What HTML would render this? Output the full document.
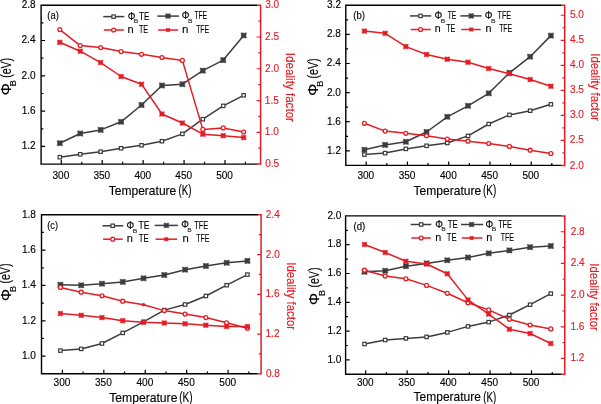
<!DOCTYPE html>
<html><head><meta charset="utf-8"><style>
html,body{margin:0;padding:0;background:#fff;}
svg{display:block;filter:blur(0.3px);}
text{font-family:"Liberation Sans", sans-serif;}
</style></head><body>
<svg width="601" height="404" viewBox="0 0 601 404">
<rect width="601" height="404" fill="#fff"/>
<path d="M257.60 5.20H41.10V164.10H257.10" fill="none" stroke="#000" stroke-width="1.4"/>
<path d="M257.60 5.20H260.60V164.10H256.80" fill="none" stroke="#e41c23" stroke-width="1.5"/>
<path d="M41.10 146.44h4 M41.10 111.13h4 M41.10 75.82h4 M41.10 40.51h4 M41.10 128.79h2.3 M41.10 93.48h2.3 M41.10 58.17h2.3 M41.10 22.86h2.3 M61.30 164.10v-4 M102.22 164.10v-4 M143.15 164.10v-4 M184.07 164.10v-4 M225.00 164.10v-4 M81.76 164.10v-2.4 M122.69 164.10v-2.4 M163.61 164.10v-2.4 M204.54 164.10v-2.4 M245.46 164.10v-2.4" stroke="#000" stroke-width="1.2" fill="none"/>
<path d="M260.60 132.32h-4 M260.60 100.54h-4 M260.60 68.76h-4 M260.60 36.98h-4 M260.60 148.21h-2.3 M260.60 116.43h-2.3 M260.60 84.65h-2.3 M260.60 52.87h-2.3 M260.60 21.09h-2.3" stroke="#e41c23" stroke-width="1.2" fill="none"/>
<text x="21.72" y="149.34" font-size="11.7" fill="#000" stroke="#000" stroke-width="0.15" textLength="13.99" lengthAdjust="spacingAndGlyphs">1.2</text>
<text x="21.65" y="114.03" font-size="11.7" fill="#000" stroke="#000" stroke-width="0.15" textLength="13.99" lengthAdjust="spacingAndGlyphs">1.6</text>
<text x="21.61" y="78.72" font-size="11.7" fill="#000" stroke="#000" stroke-width="0.15" textLength="13.99" lengthAdjust="spacingAndGlyphs">2.0</text>
<text x="21.51" y="43.41" font-size="11.7" fill="#000" stroke="#000" stroke-width="0.15" textLength="13.99" lengthAdjust="spacingAndGlyphs">2.4</text>
<text x="21.65" y="8.10" font-size="11.7" fill="#000" stroke="#000" stroke-width="0.15" textLength="13.99" lengthAdjust="spacingAndGlyphs">2.8</text>
<text x="265.21" y="167.20" font-size="11.7" fill="#e41c23" stroke="#e41c23" stroke-width="0.15" textLength="13.99" lengthAdjust="spacingAndGlyphs">0.5</text>
<text x="264.83" y="135.42" font-size="11.7" fill="#e41c23" stroke="#e41c23" stroke-width="0.15" textLength="13.99" lengthAdjust="spacingAndGlyphs">1.0</text>
<text x="264.83" y="103.64" font-size="11.7" fill="#e41c23" stroke="#e41c23" stroke-width="0.15" textLength="13.99" lengthAdjust="spacingAndGlyphs">1.5</text>
<text x="265.09" y="71.86" font-size="11.7" fill="#e41c23" stroke="#e41c23" stroke-width="0.15" textLength="13.99" lengthAdjust="spacingAndGlyphs">2.0</text>
<text x="265.09" y="40.08" font-size="11.7" fill="#e41c23" stroke="#e41c23" stroke-width="0.15" textLength="13.99" lengthAdjust="spacingAndGlyphs">2.5</text>
<text x="265.22" y="8.30" font-size="11.7" fill="#e41c23" stroke="#e41c23" stroke-width="0.15" textLength="13.99" lengthAdjust="spacingAndGlyphs">3.0</text>
<text x="52.51" y="178.60" font-size="11.7" fill="#000" stroke="#000" stroke-width="0.15" textLength="16.79" lengthAdjust="spacingAndGlyphs">300</text>
<text x="93.44" y="178.60" font-size="11.7" fill="#000" stroke="#000" stroke-width="0.15" textLength="16.79" lengthAdjust="spacingAndGlyphs">350</text>
<text x="134.44" y="178.60" font-size="11.7" fill="#000" stroke="#000" stroke-width="0.15" textLength="16.79" lengthAdjust="spacingAndGlyphs">400</text>
<text x="175.36" y="178.60" font-size="11.7" fill="#000" stroke="#000" stroke-width="0.15" textLength="16.79" lengthAdjust="spacingAndGlyphs">450</text>
<text x="216.20" y="178.60" font-size="11.7" fill="#000" stroke="#000" stroke-width="0.15" textLength="16.79" lengthAdjust="spacingAndGlyphs">500</text>
<polyline points="59.80,157.20 80.23,154.30 100.66,151.70 121.09,148.30 141.52,145.30 161.95,141.20 182.38,133.90 202.81,119.20 223.24,105.90 243.67,95.30" fill="none" stroke="#3c3c3c" stroke-width="1.5" stroke-linejoin="round"/>
<polyline points="59.80,143.20 80.23,133.50 100.66,129.90 121.09,121.80 141.52,105.00 161.95,85.50 182.38,84.20 202.81,70.60 223.24,60.10 243.67,35.45" fill="none" stroke="#3c3c3c" stroke-width="1.5" stroke-linejoin="round"/>
<rect x="58.10" y="155.50" width="3.4" height="3.4" fill="#fff" stroke="#3c3c3c" stroke-width="1.2"/>
<rect x="78.53" y="152.60" width="3.4" height="3.4" fill="#fff" stroke="#3c3c3c" stroke-width="1.2"/>
<rect x="98.96" y="150.00" width="3.4" height="3.4" fill="#fff" stroke="#3c3c3c" stroke-width="1.2"/>
<rect x="119.39" y="146.60" width="3.4" height="3.4" fill="#fff" stroke="#3c3c3c" stroke-width="1.2"/>
<rect x="139.82" y="143.60" width="3.4" height="3.4" fill="#fff" stroke="#3c3c3c" stroke-width="1.2"/>
<rect x="160.25" y="139.50" width="3.4" height="3.4" fill="#fff" stroke="#3c3c3c" stroke-width="1.2"/>
<rect x="180.68" y="132.20" width="3.4" height="3.4" fill="#fff" stroke="#3c3c3c" stroke-width="1.2"/>
<rect x="201.11" y="117.50" width="3.4" height="3.4" fill="#fff" stroke="#3c3c3c" stroke-width="1.2"/>
<rect x="221.54" y="104.20" width="3.4" height="3.4" fill="#fff" stroke="#3c3c3c" stroke-width="1.2"/>
<rect x="241.97" y="93.60" width="3.4" height="3.4" fill="#fff" stroke="#3c3c3c" stroke-width="1.2"/>
<path d="M57.15 140.55L59.80 140.92L62.45 140.55L62.08 143.20L62.45 145.85L59.80 145.48L57.15 145.85L57.52 143.20Z" fill="#3c3c3c" stroke="#3c3c3c" stroke-width="0.5" stroke-linejoin="miter"/>
<path d="M77.58 130.85L80.23 131.22L82.88 130.85L82.51 133.50L82.88 136.15L80.23 135.78L77.58 136.15L77.95 133.50Z" fill="#3c3c3c" stroke="#3c3c3c" stroke-width="0.5" stroke-linejoin="miter"/>
<path d="M98.01 127.25L100.66 127.62L103.31 127.25L102.94 129.90L103.31 132.55L100.66 132.18L98.01 132.55L98.38 129.90Z" fill="#3c3c3c" stroke="#3c3c3c" stroke-width="0.5" stroke-linejoin="miter"/>
<path d="M118.44 119.15L121.09 119.52L123.74 119.15L123.37 121.80L123.74 124.45L121.09 124.08L118.44 124.45L118.81 121.80Z" fill="#3c3c3c" stroke="#3c3c3c" stroke-width="0.5" stroke-linejoin="miter"/>
<path d="M138.87 102.35L141.52 102.72L144.17 102.35L143.80 105.00L144.17 107.65L141.52 107.28L138.87 107.65L139.24 105.00Z" fill="#3c3c3c" stroke="#3c3c3c" stroke-width="0.5" stroke-linejoin="miter"/>
<path d="M159.30 82.85L161.95 83.22L164.60 82.85L164.23 85.50L164.60 88.15L161.95 87.78L159.30 88.15L159.67 85.50Z" fill="#3c3c3c" stroke="#3c3c3c" stroke-width="0.5" stroke-linejoin="miter"/>
<path d="M179.73 81.55L182.38 81.92L185.03 81.55L184.66 84.20L185.03 86.85L182.38 86.48L179.73 86.85L180.10 84.20Z" fill="#3c3c3c" stroke="#3c3c3c" stroke-width="0.5" stroke-linejoin="miter"/>
<path d="M200.16 67.95L202.81 68.32L205.46 67.95L205.09 70.60L205.46 73.25L202.81 72.88L200.16 73.25L200.53 70.60Z" fill="#3c3c3c" stroke="#3c3c3c" stroke-width="0.5" stroke-linejoin="miter"/>
<path d="M220.59 57.45L223.24 57.82L225.89 57.45L225.52 60.10L225.89 62.75L223.24 62.38L220.59 62.75L220.96 60.10Z" fill="#3c3c3c" stroke="#3c3c3c" stroke-width="0.5" stroke-linejoin="miter"/>
<path d="M241.02 32.80L243.67 33.17L246.32 32.80L245.95 35.45L246.32 38.10L243.67 37.73L241.02 38.10L241.39 35.45Z" fill="#3c3c3c" stroke="#3c3c3c" stroke-width="0.5" stroke-linejoin="miter"/>
<polyline points="59.80,29.60 80.23,45.60 100.66,47.60 121.09,51.60 141.52,54.30 161.95,57.50 182.38,60.40 202.81,129.40 223.24,127.90 243.67,132.00" fill="none" stroke="#e41c23" stroke-width="1.5" stroke-linejoin="round"/>
<polyline points="59.80,42.30 80.23,51.20 100.66,62.60 121.09,76.50 141.52,84.20 161.95,114.00 182.38,123.00 202.81,134.20 223.24,135.70 243.67,137.60" fill="none" stroke="#e41c23" stroke-width="1.5" stroke-linejoin="round"/>
<circle cx="59.80" cy="29.60" r="1.95" fill="#fff" stroke="#e41c23" stroke-width="1.3"/>
<circle cx="80.23" cy="45.60" r="1.95" fill="#fff" stroke="#e41c23" stroke-width="1.3"/>
<circle cx="100.66" cy="47.60" r="1.95" fill="#fff" stroke="#e41c23" stroke-width="1.3"/>
<circle cx="121.09" cy="51.60" r="1.95" fill="#fff" stroke="#e41c23" stroke-width="1.3"/>
<circle cx="141.52" cy="54.30" r="1.95" fill="#fff" stroke="#e41c23" stroke-width="1.3"/>
<circle cx="161.95" cy="57.50" r="1.95" fill="#fff" stroke="#e41c23" stroke-width="1.3"/>
<circle cx="182.38" cy="60.40" r="1.95" fill="#fff" stroke="#e41c23" stroke-width="1.3"/>
<circle cx="202.81" cy="129.40" r="1.95" fill="#fff" stroke="#e41c23" stroke-width="1.3"/>
<circle cx="223.24" cy="127.90" r="1.95" fill="#fff" stroke="#e41c23" stroke-width="1.3"/>
<circle cx="243.67" cy="132.00" r="1.95" fill="#fff" stroke="#e41c23" stroke-width="1.3"/>
<path d="M57.45 39.95L59.80 40.28L62.15 39.95L61.82 42.30L62.15 44.65L59.80 44.32L57.45 44.65L57.78 42.30Z" fill="#e41c23" stroke="#e41c23" stroke-width="0.5" stroke-linejoin="miter"/>
<path d="M77.88 48.85L80.23 49.18L82.58 48.85L82.25 51.20L82.58 53.55L80.23 53.22L77.88 53.55L78.21 51.20Z" fill="#e41c23" stroke="#e41c23" stroke-width="0.5" stroke-linejoin="miter"/>
<path d="M98.31 60.25L100.66 60.58L103.01 60.25L102.68 62.60L103.01 64.95L100.66 64.62L98.31 64.95L98.64 62.60Z" fill="#e41c23" stroke="#e41c23" stroke-width="0.5" stroke-linejoin="miter"/>
<path d="M118.74 74.15L121.09 74.48L123.44 74.15L123.11 76.50L123.44 78.85L121.09 78.52L118.74 78.85L119.07 76.50Z" fill="#e41c23" stroke="#e41c23" stroke-width="0.5" stroke-linejoin="miter"/>
<path d="M139.17 81.85L141.52 82.18L143.87 81.85L143.54 84.20L143.87 86.55L141.52 86.22L139.17 86.55L139.50 84.20Z" fill="#e41c23" stroke="#e41c23" stroke-width="0.5" stroke-linejoin="miter"/>
<path d="M159.60 111.65L161.95 111.98L164.30 111.65L163.97 114.00L164.30 116.35L161.95 116.02L159.60 116.35L159.93 114.00Z" fill="#e41c23" stroke="#e41c23" stroke-width="0.5" stroke-linejoin="miter"/>
<path d="M180.03 120.65L182.38 120.98L184.73 120.65L184.40 123.00L184.73 125.35L182.38 125.02L180.03 125.35L180.36 123.00Z" fill="#e41c23" stroke="#e41c23" stroke-width="0.5" stroke-linejoin="miter"/>
<path d="M200.46 131.85L202.81 132.18L205.16 131.85L204.83 134.20L205.16 136.55L202.81 136.22L200.46 136.55L200.79 134.20Z" fill="#e41c23" stroke="#e41c23" stroke-width="0.5" stroke-linejoin="miter"/>
<path d="M220.89 133.35L223.24 133.68L225.59 133.35L225.26 135.70L225.59 138.05L223.24 137.72L220.89 138.05L221.22 135.70Z" fill="#e41c23" stroke="#e41c23" stroke-width="0.5" stroke-linejoin="miter"/>
<path d="M241.32 135.25L243.67 135.58L246.02 135.25L245.69 137.60L246.02 139.95L243.67 139.62L241.32 139.95L241.65 137.60Z" fill="#e41c23" stroke="#e41c23" stroke-width="0.5" stroke-linejoin="miter"/>
<path d="M103.20 16.60H124.30" stroke="#3c3c3c" stroke-width="1.5"/><rect x="111.90" y="14.90" width="3.4" height="3.4" fill="#fff" stroke="#3c3c3c" stroke-width="1.2"/>
<path d="M103.90 30.00H123.80" stroke="#e41c23" stroke-width="1.5"/><circle cx="113.60" cy="30.00" r="1.95" fill="#fff" stroke="#e41c23" stroke-width="1.3"/>
<path d="M157.30 16.10H178.90" stroke="#3c3c3c" stroke-width="1.5"/><path d="M165.65 13.75L168.00 14.08L170.35 13.75L170.02 16.10L170.35 18.45L168.00 18.12L165.65 18.45L165.98 16.10Z" fill="#3c3c3c" stroke="#3c3c3c" stroke-width="0.5" stroke-linejoin="miter"/>
<path d="M158.20 30.00H178.10" stroke="#e41c23" stroke-width="1.5"/><path d="M166.20 28.20L168.00 28.45L169.80 28.20L169.55 30.00L169.80 31.80L168.00 31.55L166.20 31.80L166.45 30.00Z" fill="#e41c23" stroke="#e41c23" stroke-width="0.5" stroke-linejoin="miter"/>
<text x="127.65" y="19.60" font-size="10.0" fill="#000" stroke="#000" stroke-width="0.15" textLength="7.70" lengthAdjust="spacingAndGlyphs">&#934;</text>
<text x="133.85" y="23.30" font-size="5.9" fill="#000" textLength="4.51" lengthAdjust="spacingAndGlyphs">B</text>
<text x="181.75" y="19.10" font-size="10.0" fill="#000" stroke="#000" stroke-width="0.15" textLength="7.70" lengthAdjust="spacingAndGlyphs">&#934;</text>
<text x="187.95" y="22.80" font-size="5.9" fill="#000" textLength="4.51" lengthAdjust="spacingAndGlyphs">B</text>
<text x="139.02" y="19.80" font-size="11.0" fill="#000" stroke="#000" stroke-width="0.15" textLength="10.33" lengthAdjust="spacingAndGlyphs">TE</text>
<text x="194.45" y="19.30" font-size="11.0" fill="#000" stroke="#000" stroke-width="0.15" textLength="12.64" lengthAdjust="spacingAndGlyphs">TFE</text>
<text x="127.57" y="32.80" font-size="11.0" fill="#000" stroke="#000" stroke-width="0.12" textLength="6.15" lengthAdjust="spacingAndGlyphs">n</text>
<text x="138.94" y="32.80" font-size="11.0" fill="#000" stroke="#000" stroke-width="0.15" textLength="9.17" lengthAdjust="spacingAndGlyphs">TE</text>
<text x="181.93" y="32.80" font-size="11.0" fill="#000" stroke="#000" stroke-width="0.12" textLength="6.42" lengthAdjust="spacingAndGlyphs">n</text>
<text x="196.15" y="32.80" font-size="11.0" fill="#000" stroke="#000" stroke-width="0.15" textLength="12.95" lengthAdjust="spacingAndGlyphs">TFE</text>
<text x="47.31" y="18.70" font-size="11.7" fill="#000" stroke="#000" stroke-width="0.15" textLength="11.57" lengthAdjust="spacingAndGlyphs">(a)</text>
<text x="108.73" y="194.50" font-size="13.2" fill="#000" stroke="#000" stroke-width="0.15" textLength="67.59" lengthAdjust="spacingAndGlyphs">Temperature</text>
<text x="178.60" y="194.80" font-size="14.3" fill="#000" stroke="#000" stroke-width="0.15" textLength="12.90" lengthAdjust="spacingAndGlyphs">(K)</text>
<g transform="translate(285.80,53.90) rotate(90)"><text x="-1.07" y="0.00" font-size="13.0" fill="#e41c23" stroke="#e41c23" stroke-width="0.15" textLength="69.17" lengthAdjust="spacingAndGlyphs">Ideality factor</text></g>
<g transform="translate(10.50,94.40) rotate(-90)"><text x="-0.87" y="0.20" font-size="14.3" fill="#000" stroke="#000" stroke-width="0.15" textLength="12.13" lengthAdjust="spacingAndGlyphs">&#934;</text><text x="7.91" y="5.60" font-size="8.4" fill="#000" stroke="#000" stroke-width="0.1" textLength="6.39" lengthAdjust="spacingAndGlyphs">B</text><text x="16.54" y="0.00" font-size="14.0" fill="#000" stroke="#000" stroke-width="0.15" textLength="20.01" lengthAdjust="spacingAndGlyphs">(eV)</text></g>
<path d="M561.70 5.25H345.80V165.40H561.20" fill="none" stroke="#000" stroke-width="1.4"/>
<path d="M561.70 5.25H564.70V165.40H560.90" fill="none" stroke="#e41c23" stroke-width="1.5"/>
<path d="M345.80 150.84h4 M345.80 121.72h4 M345.80 92.60h4 M345.80 63.49h4 M345.80 34.37h4 M345.80 136.28h2.3 M345.80 107.16h2.3 M345.80 78.05h2.3 M345.80 48.93h2.3 M345.80 19.81h2.3 M366.20 165.40v-4 M407.45 165.40v-4 M448.70 165.40v-4 M489.95 165.40v-4 M531.20 165.40v-4 M386.82 165.40v-2.4 M428.07 165.40v-2.4 M469.32 165.40v-2.4 M510.57 165.40v-2.4 M551.83 165.40v-2.4" stroke="#000" stroke-width="1.2" fill="none"/>
<path d="M564.70 140.38h-4 M564.70 115.35h-4 M564.70 90.33h-4 M564.70 65.31h-4 M564.70 40.28h-4 M564.70 15.26h-4 M564.70 152.89h-2.3 M564.70 127.86h-2.3 M564.70 102.84h-2.3 M564.70 77.82h-2.3 M564.70 52.79h-2.3 M564.70 27.77h-2.3" stroke="#e41c23" stroke-width="1.2" fill="none"/>
<text x="327.02" y="153.74" font-size="11.7" fill="#000" stroke="#000" stroke-width="0.15" textLength="13.99" lengthAdjust="spacingAndGlyphs">1.2</text>
<text x="326.95" y="124.62" font-size="11.7" fill="#000" stroke="#000" stroke-width="0.15" textLength="13.99" lengthAdjust="spacingAndGlyphs">1.6</text>
<text x="326.91" y="95.50" font-size="11.7" fill="#000" stroke="#000" stroke-width="0.15" textLength="13.99" lengthAdjust="spacingAndGlyphs">2.0</text>
<text x="326.81" y="66.39" font-size="11.7" fill="#000" stroke="#000" stroke-width="0.15" textLength="13.99" lengthAdjust="spacingAndGlyphs">2.4</text>
<text x="326.95" y="37.27" font-size="11.7" fill="#000" stroke="#000" stroke-width="0.15" textLength="13.99" lengthAdjust="spacingAndGlyphs">2.8</text>
<text x="327.02" y="8.15" font-size="11.7" fill="#000" stroke="#000" stroke-width="0.15" textLength="13.99" lengthAdjust="spacingAndGlyphs">3.2</text>
<text x="569.79" y="168.50" font-size="11.7" fill="#e41c23" stroke="#e41c23" stroke-width="0.15" textLength="13.99" lengthAdjust="spacingAndGlyphs">2.0</text>
<text x="569.79" y="143.48" font-size="11.7" fill="#e41c23" stroke="#e41c23" stroke-width="0.15" textLength="13.99" lengthAdjust="spacingAndGlyphs">2.5</text>
<text x="569.92" y="118.45" font-size="11.7" fill="#e41c23" stroke="#e41c23" stroke-width="0.15" textLength="13.99" lengthAdjust="spacingAndGlyphs">3.0</text>
<text x="569.92" y="93.43" font-size="11.7" fill="#e41c23" stroke="#e41c23" stroke-width="0.15" textLength="13.99" lengthAdjust="spacingAndGlyphs">3.5</text>
<text x="570.07" y="68.41" font-size="11.7" fill="#e41c23" stroke="#e41c23" stroke-width="0.15" textLength="13.99" lengthAdjust="spacingAndGlyphs">4.0</text>
<text x="570.07" y="43.38" font-size="11.7" fill="#e41c23" stroke="#e41c23" stroke-width="0.15" textLength="13.99" lengthAdjust="spacingAndGlyphs">4.5</text>
<text x="569.90" y="18.36" font-size="11.7" fill="#e41c23" stroke="#e41c23" stroke-width="0.15" textLength="13.99" lengthAdjust="spacingAndGlyphs">5.0</text>
<text x="357.41" y="178.90" font-size="11.7" fill="#000" stroke="#000" stroke-width="0.15" textLength="16.79" lengthAdjust="spacingAndGlyphs">300</text>
<text x="398.66" y="178.90" font-size="11.7" fill="#000" stroke="#000" stroke-width="0.15" textLength="16.79" lengthAdjust="spacingAndGlyphs">350</text>
<text x="439.99" y="178.90" font-size="11.7" fill="#000" stroke="#000" stroke-width="0.15" textLength="16.79" lengthAdjust="spacingAndGlyphs">400</text>
<text x="481.24" y="178.90" font-size="11.7" fill="#000" stroke="#000" stroke-width="0.15" textLength="16.79" lengthAdjust="spacingAndGlyphs">450</text>
<text x="522.40" y="178.90" font-size="11.7" fill="#000" stroke="#000" stroke-width="0.15" textLength="16.79" lengthAdjust="spacingAndGlyphs">500</text>
<polyline points="364.40,154.60 385.12,153.10 405.84,148.90 426.56,145.80 447.28,143.00 468.00,135.90 488.72,124.00 509.44,114.90 530.16,110.70 550.88,104.30" fill="none" stroke="#3c3c3c" stroke-width="1.5" stroke-linejoin="round"/>
<polyline points="364.40,149.80 385.12,144.90 405.84,141.80 426.56,132.00 447.28,116.80 468.00,105.80 488.72,93.30 509.44,72.80 530.16,56.70 550.88,35.60" fill="none" stroke="#3c3c3c" stroke-width="1.5" stroke-linejoin="round"/>
<rect x="362.70" y="152.90" width="3.4" height="3.4" fill="#fff" stroke="#3c3c3c" stroke-width="1.2"/>
<rect x="383.42" y="151.40" width="3.4" height="3.4" fill="#fff" stroke="#3c3c3c" stroke-width="1.2"/>
<rect x="404.14" y="147.20" width="3.4" height="3.4" fill="#fff" stroke="#3c3c3c" stroke-width="1.2"/>
<rect x="424.86" y="144.10" width="3.4" height="3.4" fill="#fff" stroke="#3c3c3c" stroke-width="1.2"/>
<rect x="445.58" y="141.30" width="3.4" height="3.4" fill="#fff" stroke="#3c3c3c" stroke-width="1.2"/>
<rect x="466.30" y="134.20" width="3.4" height="3.4" fill="#fff" stroke="#3c3c3c" stroke-width="1.2"/>
<rect x="487.02" y="122.30" width="3.4" height="3.4" fill="#fff" stroke="#3c3c3c" stroke-width="1.2"/>
<rect x="507.74" y="113.20" width="3.4" height="3.4" fill="#fff" stroke="#3c3c3c" stroke-width="1.2"/>
<rect x="528.46" y="109.00" width="3.4" height="3.4" fill="#fff" stroke="#3c3c3c" stroke-width="1.2"/>
<rect x="549.18" y="102.60" width="3.4" height="3.4" fill="#fff" stroke="#3c3c3c" stroke-width="1.2"/>
<path d="M361.75 147.15L364.40 147.52L367.05 147.15L366.68 149.80L367.05 152.45L364.40 152.08L361.75 152.45L362.12 149.80Z" fill="#3c3c3c" stroke="#3c3c3c" stroke-width="0.5" stroke-linejoin="miter"/>
<path d="M382.47 142.25L385.12 142.62L387.77 142.25L387.40 144.90L387.77 147.55L385.12 147.18L382.47 147.55L382.84 144.90Z" fill="#3c3c3c" stroke="#3c3c3c" stroke-width="0.5" stroke-linejoin="miter"/>
<path d="M403.19 139.15L405.84 139.52L408.49 139.15L408.12 141.80L408.49 144.45L405.84 144.08L403.19 144.45L403.56 141.80Z" fill="#3c3c3c" stroke="#3c3c3c" stroke-width="0.5" stroke-linejoin="miter"/>
<path d="M423.91 129.35L426.56 129.72L429.21 129.35L428.84 132.00L429.21 134.65L426.56 134.28L423.91 134.65L424.28 132.00Z" fill="#3c3c3c" stroke="#3c3c3c" stroke-width="0.5" stroke-linejoin="miter"/>
<path d="M444.63 114.15L447.28 114.52L449.93 114.15L449.56 116.80L449.93 119.45L447.28 119.08L444.63 119.45L445.00 116.80Z" fill="#3c3c3c" stroke="#3c3c3c" stroke-width="0.5" stroke-linejoin="miter"/>
<path d="M465.35 103.15L468.00 103.52L470.65 103.15L470.28 105.80L470.65 108.45L468.00 108.08L465.35 108.45L465.72 105.80Z" fill="#3c3c3c" stroke="#3c3c3c" stroke-width="0.5" stroke-linejoin="miter"/>
<path d="M486.07 90.65L488.72 91.02L491.37 90.65L491.00 93.30L491.37 95.95L488.72 95.58L486.07 95.95L486.44 93.30Z" fill="#3c3c3c" stroke="#3c3c3c" stroke-width="0.5" stroke-linejoin="miter"/>
<path d="M506.79 70.15L509.44 70.52L512.09 70.15L511.72 72.80L512.09 75.45L509.44 75.08L506.79 75.45L507.16 72.80Z" fill="#3c3c3c" stroke="#3c3c3c" stroke-width="0.5" stroke-linejoin="miter"/>
<path d="M527.51 54.05L530.16 54.42L532.81 54.05L532.44 56.70L532.81 59.35L530.16 58.98L527.51 59.35L527.88 56.70Z" fill="#3c3c3c" stroke="#3c3c3c" stroke-width="0.5" stroke-linejoin="miter"/>
<path d="M548.23 32.95L550.88 33.32L553.53 32.95L553.16 35.60L553.53 38.25L550.88 37.88L548.23 38.25L548.60 35.60Z" fill="#3c3c3c" stroke="#3c3c3c" stroke-width="0.5" stroke-linejoin="miter"/>
<polyline points="364.40,123.30 385.12,131.10 405.84,133.30 426.56,135.70 447.28,139.00 468.00,141.20 488.72,143.50 509.44,146.40 530.16,150.20 550.88,153.50" fill="none" stroke="#e41c23" stroke-width="1.5" stroke-linejoin="round"/>
<polyline points="364.40,31.10 385.12,33.30 405.84,46.60 426.56,54.50 447.28,59.20 468.00,62.20 488.72,68.50 509.44,73.70 530.16,79.50 550.88,86.20" fill="none" stroke="#e41c23" stroke-width="1.5" stroke-linejoin="round"/>
<circle cx="364.40" cy="123.30" r="1.95" fill="#fff" stroke="#e41c23" stroke-width="1.3"/>
<circle cx="385.12" cy="131.10" r="1.95" fill="#fff" stroke="#e41c23" stroke-width="1.3"/>
<circle cx="405.84" cy="133.30" r="1.95" fill="#fff" stroke="#e41c23" stroke-width="1.3"/>
<circle cx="426.56" cy="135.70" r="1.95" fill="#fff" stroke="#e41c23" stroke-width="1.3"/>
<circle cx="447.28" cy="139.00" r="1.95" fill="#fff" stroke="#e41c23" stroke-width="1.3"/>
<circle cx="468.00" cy="141.20" r="1.95" fill="#fff" stroke="#e41c23" stroke-width="1.3"/>
<circle cx="488.72" cy="143.50" r="1.95" fill="#fff" stroke="#e41c23" stroke-width="1.3"/>
<circle cx="509.44" cy="146.40" r="1.95" fill="#fff" stroke="#e41c23" stroke-width="1.3"/>
<circle cx="530.16" cy="150.20" r="1.95" fill="#fff" stroke="#e41c23" stroke-width="1.3"/>
<circle cx="550.88" cy="153.50" r="1.95" fill="#fff" stroke="#e41c23" stroke-width="1.3"/>
<path d="M362.05 28.75L364.40 29.08L366.75 28.75L366.42 31.10L366.75 33.45L364.40 33.12L362.05 33.45L362.38 31.10Z" fill="#e41c23" stroke="#e41c23" stroke-width="0.5" stroke-linejoin="miter"/>
<path d="M382.77 30.95L385.12 31.28L387.47 30.95L387.14 33.30L387.47 35.65L385.12 35.32L382.77 35.65L383.10 33.30Z" fill="#e41c23" stroke="#e41c23" stroke-width="0.5" stroke-linejoin="miter"/>
<path d="M403.49 44.25L405.84 44.58L408.19 44.25L407.86 46.60L408.19 48.95L405.84 48.62L403.49 48.95L403.82 46.60Z" fill="#e41c23" stroke="#e41c23" stroke-width="0.5" stroke-linejoin="miter"/>
<path d="M424.21 52.15L426.56 52.48L428.91 52.15L428.58 54.50L428.91 56.85L426.56 56.52L424.21 56.85L424.54 54.50Z" fill="#e41c23" stroke="#e41c23" stroke-width="0.5" stroke-linejoin="miter"/>
<path d="M444.93 56.85L447.28 57.18L449.63 56.85L449.30 59.20L449.63 61.55L447.28 61.22L444.93 61.55L445.26 59.20Z" fill="#e41c23" stroke="#e41c23" stroke-width="0.5" stroke-linejoin="miter"/>
<path d="M465.65 59.85L468.00 60.18L470.35 59.85L470.02 62.20L470.35 64.55L468.00 64.22L465.65 64.55L465.98 62.20Z" fill="#e41c23" stroke="#e41c23" stroke-width="0.5" stroke-linejoin="miter"/>
<path d="M486.37 66.15L488.72 66.48L491.07 66.15L490.74 68.50L491.07 70.85L488.72 70.52L486.37 70.85L486.70 68.50Z" fill="#e41c23" stroke="#e41c23" stroke-width="0.5" stroke-linejoin="miter"/>
<path d="M507.09 71.35L509.44 71.68L511.79 71.35L511.46 73.70L511.79 76.05L509.44 75.72L507.09 76.05L507.42 73.70Z" fill="#e41c23" stroke="#e41c23" stroke-width="0.5" stroke-linejoin="miter"/>
<path d="M527.81 77.15L530.16 77.48L532.51 77.15L532.18 79.50L532.51 81.85L530.16 81.52L527.81 81.85L528.14 79.50Z" fill="#e41c23" stroke="#e41c23" stroke-width="0.5" stroke-linejoin="miter"/>
<path d="M548.53 83.85L550.88 84.18L553.23 83.85L552.90 86.20L553.23 88.55L550.88 88.22L548.53 88.55L548.86 86.20Z" fill="#e41c23" stroke="#e41c23" stroke-width="0.5" stroke-linejoin="miter"/>
<path d="M410.00 15.90H431.20" stroke="#3c3c3c" stroke-width="1.5"/><rect x="418.80" y="14.20" width="3.4" height="3.4" fill="#fff" stroke="#3c3c3c" stroke-width="1.2"/>
<path d="M410.70 29.50H430.70" stroke="#e41c23" stroke-width="1.5"/><circle cx="420.50" cy="29.50" r="1.95" fill="#fff" stroke="#e41c23" stroke-width="1.3"/>
<path d="M460.40 15.90H481.50" stroke="#3c3c3c" stroke-width="1.5"/><path d="M468.85 13.55L471.20 13.88L473.55 13.55L473.22 15.90L473.55 18.25L471.20 17.92L468.85 18.25L469.18 15.90Z" fill="#3c3c3c" stroke="#3c3c3c" stroke-width="0.5" stroke-linejoin="miter"/>
<path d="M461.30 29.50H480.70" stroke="#e41c23" stroke-width="1.5"/><path d="M469.40 27.70L471.20 27.95L473.00 27.70L472.75 29.50L473.00 31.30L471.20 31.05L469.40 31.30L469.65 29.50Z" fill="#e41c23" stroke="#e41c23" stroke-width="0.5" stroke-linejoin="miter"/>
<text x="434.45" y="18.90" font-size="10.0" fill="#000" stroke="#000" stroke-width="0.15" textLength="7.70" lengthAdjust="spacingAndGlyphs">&#934;</text>
<text x="440.65" y="22.60" font-size="5.9" fill="#000" textLength="4.51" lengthAdjust="spacingAndGlyphs">B</text>
<text x="484.75" y="18.90" font-size="10.0" fill="#000" stroke="#000" stroke-width="0.15" textLength="7.70" lengthAdjust="spacingAndGlyphs">&#934;</text>
<text x="490.95" y="22.60" font-size="5.9" fill="#000" textLength="4.51" lengthAdjust="spacingAndGlyphs">B</text>
<text x="447.85" y="19.10" font-size="11.0" fill="#000" stroke="#000" stroke-width="0.15" textLength="8.43" lengthAdjust="spacingAndGlyphs">TE</text>
<text x="497.54" y="19.10" font-size="11.0" fill="#000" stroke="#000" stroke-width="0.15" textLength="13.47" lengthAdjust="spacingAndGlyphs">TFE</text>
<text x="434.80" y="32.30" font-size="11.0" fill="#000" stroke="#000" stroke-width="0.12" textLength="5.89" lengthAdjust="spacingAndGlyphs">n</text>
<text x="446.34" y="32.30" font-size="11.0" fill="#000" stroke="#000" stroke-width="0.15" textLength="8.96" lengthAdjust="spacingAndGlyphs">TE</text>
<text x="485.38" y="32.30" font-size="11.0" fill="#000" stroke="#000" stroke-width="0.12" textLength="6.02" lengthAdjust="spacingAndGlyphs">n</text>
<text x="499.15" y="32.30" font-size="11.0" fill="#000" stroke="#000" stroke-width="0.15" textLength="12.95" lengthAdjust="spacingAndGlyphs">TFE</text>
<text x="353.30" y="18.70" font-size="11.7" fill="#000" stroke="#000" stroke-width="0.15" textLength="11.80" lengthAdjust="spacingAndGlyphs">(b)</text>
<text x="413.53" y="194.50" font-size="13.2" fill="#000" stroke="#000" stroke-width="0.15" textLength="67.69" lengthAdjust="spacingAndGlyphs">Temperature</text>
<text x="482.98" y="194.80" font-size="14.3" fill="#000" stroke="#000" stroke-width="0.15" textLength="13.23" lengthAdjust="spacingAndGlyphs">(K)</text>
<g transform="translate(590.90,54.30) rotate(90)"><text x="-1.05" y="0.00" font-size="13.0" fill="#e41c23" stroke="#e41c23" stroke-width="0.15" textLength="67.84" lengthAdjust="spacingAndGlyphs">Ideality factor</text></g>
<g transform="translate(317.80,95.00) rotate(-90)"><text x="-0.87" y="0.20" font-size="14.3" fill="#000" stroke="#000" stroke-width="0.15" textLength="12.13" lengthAdjust="spacingAndGlyphs">&#934;</text><text x="7.91" y="5.60" font-size="8.4" fill="#000" stroke="#000" stroke-width="0.1" textLength="6.39" lengthAdjust="spacingAndGlyphs">B</text><text x="16.54" y="0.00" font-size="14.0" fill="#000" stroke="#000" stroke-width="0.15" textLength="20.01" lengthAdjust="spacingAndGlyphs">(eV)</text></g>
<path d="M258.10 214.80H41.50V373.80H257.60" fill="none" stroke="#000" stroke-width="1.4"/>
<path d="M258.10 214.80H261.10V373.80H257.30" fill="none" stroke="#e41c23" stroke-width="1.5"/>
<path d="M41.50 356.13h4 M41.50 320.80h4 M41.50 285.47h4 M41.50 250.13h4 M41.50 338.47h2.3 M41.50 303.13h2.3 M41.50 267.80h2.3 M41.50 232.47h2.3 M62.40 373.80v-4 M103.82 373.80v-4 M145.25 373.80v-4 M186.68 373.80v-4 M228.10 373.80v-4 M83.11 373.80v-2.4 M124.54 373.80v-2.4 M165.96 373.80v-2.4 M207.39 373.80v-2.4 M248.81 373.80v-2.4" stroke="#000" stroke-width="1.2" fill="none"/>
<path d="M261.10 334.05h-4 M261.10 294.30h-4 M261.10 254.55h-4 M261.10 353.93h-2.3 M261.10 314.18h-2.3 M261.10 274.43h-2.3 M261.10 234.67h-2.3" stroke="#e41c23" stroke-width="1.2" fill="none"/>
<text x="21.91" y="358.93" font-size="11.7" fill="#000" stroke="#000" stroke-width="0.15" textLength="13.99" lengthAdjust="spacingAndGlyphs">1.0</text>
<text x="22.02" y="323.60" font-size="11.7" fill="#000" stroke="#000" stroke-width="0.15" textLength="13.99" lengthAdjust="spacingAndGlyphs">1.2</text>
<text x="21.81" y="288.27" font-size="11.7" fill="#000" stroke="#000" stroke-width="0.15" textLength="13.99" lengthAdjust="spacingAndGlyphs">1.4</text>
<text x="21.95" y="252.93" font-size="11.7" fill="#000" stroke="#000" stroke-width="0.15" textLength="13.99" lengthAdjust="spacingAndGlyphs">1.6</text>
<text x="21.95" y="217.60" font-size="11.7" fill="#000" stroke="#000" stroke-width="0.15" textLength="13.99" lengthAdjust="spacingAndGlyphs">1.8</text>
<text x="265.91" y="376.90" font-size="11.7" fill="#e41c23" stroke="#e41c23" stroke-width="0.15" textLength="13.99" lengthAdjust="spacingAndGlyphs">0.8</text>
<text x="265.53" y="337.15" font-size="11.7" fill="#e41c23" stroke="#e41c23" stroke-width="0.15" textLength="13.99" lengthAdjust="spacingAndGlyphs">1.2</text>
<text x="265.53" y="297.40" font-size="11.7" fill="#e41c23" stroke="#e41c23" stroke-width="0.15" textLength="13.99" lengthAdjust="spacingAndGlyphs">1.6</text>
<text x="265.79" y="257.65" font-size="11.7" fill="#e41c23" stroke="#e41c23" stroke-width="0.15" textLength="13.99" lengthAdjust="spacingAndGlyphs">2.0</text>
<text x="265.79" y="217.90" font-size="11.7" fill="#e41c23" stroke="#e41c23" stroke-width="0.15" textLength="13.99" lengthAdjust="spacingAndGlyphs">2.4</text>
<text x="53.61" y="385.90" font-size="11.7" fill="#000" stroke="#000" stroke-width="0.15" textLength="16.79" lengthAdjust="spacingAndGlyphs">300</text>
<text x="95.04" y="385.90" font-size="11.7" fill="#000" stroke="#000" stroke-width="0.15" textLength="16.79" lengthAdjust="spacingAndGlyphs">350</text>
<text x="136.54" y="385.90" font-size="11.7" fill="#000" stroke="#000" stroke-width="0.15" textLength="16.79" lengthAdjust="spacingAndGlyphs">400</text>
<text x="177.96" y="385.90" font-size="11.7" fill="#000" stroke="#000" stroke-width="0.15" textLength="16.79" lengthAdjust="spacingAndGlyphs">450</text>
<text x="219.30" y="385.90" font-size="11.7" fill="#000" stroke="#000" stroke-width="0.15" textLength="16.79" lengthAdjust="spacingAndGlyphs">500</text>
<polyline points="60.40,350.60 81.18,348.90 101.96,343.50 122.74,332.90 143.52,321.80 164.30,310.10 185.08,304.50 205.86,296.00 226.64,285.20 247.42,274.60" fill="none" stroke="#3c3c3c" stroke-width="1.5" stroke-linejoin="round"/>
<polyline points="60.40,284.70 81.18,285.30 101.96,283.70 122.74,281.90 143.52,278.30 164.30,275.00 185.08,269.70 205.86,266.00 226.64,262.80 247.42,260.90" fill="none" stroke="#3c3c3c" stroke-width="1.5" stroke-linejoin="round"/>
<rect x="58.70" y="348.90" width="3.4" height="3.4" fill="#fff" stroke="#3c3c3c" stroke-width="1.2"/>
<rect x="79.48" y="347.20" width="3.4" height="3.4" fill="#fff" stroke="#3c3c3c" stroke-width="1.2"/>
<rect x="100.26" y="341.80" width="3.4" height="3.4" fill="#fff" stroke="#3c3c3c" stroke-width="1.2"/>
<rect x="121.04" y="331.20" width="3.4" height="3.4" fill="#fff" stroke="#3c3c3c" stroke-width="1.2"/>
<rect x="141.82" y="320.10" width="3.4" height="3.4" fill="#fff" stroke="#3c3c3c" stroke-width="1.2"/>
<rect x="162.60" y="308.40" width="3.4" height="3.4" fill="#fff" stroke="#3c3c3c" stroke-width="1.2"/>
<rect x="183.38" y="302.80" width="3.4" height="3.4" fill="#fff" stroke="#3c3c3c" stroke-width="1.2"/>
<rect x="204.16" y="294.30" width="3.4" height="3.4" fill="#fff" stroke="#3c3c3c" stroke-width="1.2"/>
<rect x="224.94" y="283.50" width="3.4" height="3.4" fill="#fff" stroke="#3c3c3c" stroke-width="1.2"/>
<rect x="245.72" y="272.90" width="3.4" height="3.4" fill="#fff" stroke="#3c3c3c" stroke-width="1.2"/>
<path d="M57.75 282.05L60.40 282.42L63.05 282.05L62.68 284.70L63.05 287.35L60.40 286.98L57.75 287.35L58.12 284.70Z" fill="#3c3c3c" stroke="#3c3c3c" stroke-width="0.5" stroke-linejoin="miter"/>
<path d="M78.53 282.65L81.18 283.02L83.83 282.65L83.46 285.30L83.83 287.95L81.18 287.58L78.53 287.95L78.90 285.30Z" fill="#3c3c3c" stroke="#3c3c3c" stroke-width="0.5" stroke-linejoin="miter"/>
<path d="M99.31 281.05L101.96 281.42L104.61 281.05L104.24 283.70L104.61 286.35L101.96 285.98L99.31 286.35L99.68 283.70Z" fill="#3c3c3c" stroke="#3c3c3c" stroke-width="0.5" stroke-linejoin="miter"/>
<path d="M120.09 279.25L122.74 279.62L125.39 279.25L125.02 281.90L125.39 284.55L122.74 284.18L120.09 284.55L120.46 281.90Z" fill="#3c3c3c" stroke="#3c3c3c" stroke-width="0.5" stroke-linejoin="miter"/>
<path d="M140.87 275.65L143.52 276.02L146.17 275.65L145.80 278.30L146.17 280.95L143.52 280.58L140.87 280.95L141.24 278.30Z" fill="#3c3c3c" stroke="#3c3c3c" stroke-width="0.5" stroke-linejoin="miter"/>
<path d="M161.65 272.35L164.30 272.72L166.95 272.35L166.58 275.00L166.95 277.65L164.30 277.28L161.65 277.65L162.02 275.00Z" fill="#3c3c3c" stroke="#3c3c3c" stroke-width="0.5" stroke-linejoin="miter"/>
<path d="M182.43 267.05L185.08 267.42L187.73 267.05L187.36 269.70L187.73 272.35L185.08 271.98L182.43 272.35L182.80 269.70Z" fill="#3c3c3c" stroke="#3c3c3c" stroke-width="0.5" stroke-linejoin="miter"/>
<path d="M203.21 263.35L205.86 263.72L208.51 263.35L208.14 266.00L208.51 268.65L205.86 268.28L203.21 268.65L203.58 266.00Z" fill="#3c3c3c" stroke="#3c3c3c" stroke-width="0.5" stroke-linejoin="miter"/>
<path d="M223.99 260.15L226.64 260.52L229.29 260.15L228.92 262.80L229.29 265.45L226.64 265.08L223.99 265.45L224.36 262.80Z" fill="#3c3c3c" stroke="#3c3c3c" stroke-width="0.5" stroke-linejoin="miter"/>
<path d="M244.77 258.25L247.42 258.62L250.07 258.25L249.70 260.90L250.07 263.55L247.42 263.18L244.77 263.55L245.14 260.90Z" fill="#3c3c3c" stroke="#3c3c3c" stroke-width="0.5" stroke-linejoin="miter"/>
<polyline points="60.40,287.40 81.18,292.20 101.96,295.80 122.74,301.20 143.52,304.70 164.30,310.60 185.08,314.10 205.86,317.60 226.64,322.80 247.42,328.20" fill="none" stroke="#e41c23" stroke-width="1.5" stroke-linejoin="round"/>
<polyline points="60.40,313.60 81.18,315.30 101.96,317.60 122.74,320.70 143.52,322.30 164.30,323.00 185.08,323.80 205.86,325.20 226.64,326.40 247.42,326.60" fill="none" stroke="#e41c23" stroke-width="1.5" stroke-linejoin="round"/>
<circle cx="60.40" cy="287.40" r="1.95" fill="#fff" stroke="#e41c23" stroke-width="1.3"/>
<circle cx="81.18" cy="292.20" r="1.95" fill="#fff" stroke="#e41c23" stroke-width="1.3"/>
<circle cx="101.96" cy="295.80" r="1.95" fill="#fff" stroke="#e41c23" stroke-width="1.3"/>
<circle cx="122.74" cy="301.20" r="1.95" fill="#fff" stroke="#e41c23" stroke-width="1.3"/>
<circle cx="143.52" cy="304.70" r="1.8" fill="#e41c23"/>
<circle cx="164.30" cy="310.60" r="1.95" fill="#fff" stroke="#e41c23" stroke-width="1.3"/>
<circle cx="185.08" cy="314.10" r="1.95" fill="#fff" stroke="#e41c23" stroke-width="1.3"/>
<circle cx="205.86" cy="317.60" r="1.95" fill="#fff" stroke="#e41c23" stroke-width="1.3"/>
<circle cx="226.64" cy="322.80" r="1.95" fill="#fff" stroke="#e41c23" stroke-width="1.3"/>
<circle cx="247.42" cy="328.20" r="1.95" fill="#fff" stroke="#e41c23" stroke-width="1.3"/>
<path d="M58.05 311.25L60.40 311.58L62.75 311.25L62.42 313.60L62.75 315.95L60.40 315.62L58.05 315.95L58.38 313.60Z" fill="#e41c23" stroke="#e41c23" stroke-width="0.5" stroke-linejoin="miter"/>
<path d="M78.83 312.95L81.18 313.28L83.53 312.95L83.20 315.30L83.53 317.65L81.18 317.32L78.83 317.65L79.16 315.30Z" fill="#e41c23" stroke="#e41c23" stroke-width="0.5" stroke-linejoin="miter"/>
<path d="M99.61 315.25L101.96 315.58L104.31 315.25L103.98 317.60L104.31 319.95L101.96 319.62L99.61 319.95L99.94 317.60Z" fill="#e41c23" stroke="#e41c23" stroke-width="0.5" stroke-linejoin="miter"/>
<path d="M120.39 318.35L122.74 318.68L125.09 318.35L124.76 320.70L125.09 323.05L122.74 322.72L120.39 323.05L120.72 320.70Z" fill="#e41c23" stroke="#e41c23" stroke-width="0.5" stroke-linejoin="miter"/>
<path d="M141.17 319.95L143.52 320.28L145.87 319.95L145.54 322.30L145.87 324.65L143.52 324.32L141.17 324.65L141.50 322.30Z" fill="#e41c23" stroke="#e41c23" stroke-width="0.5" stroke-linejoin="miter"/>
<path d="M161.95 320.65L164.30 320.98L166.65 320.65L166.32 323.00L166.65 325.35L164.30 325.02L161.95 325.35L162.28 323.00Z" fill="#e41c23" stroke="#e41c23" stroke-width="0.5" stroke-linejoin="miter"/>
<path d="M182.73 321.45L185.08 321.78L187.43 321.45L187.10 323.80L187.43 326.15L185.08 325.82L182.73 326.15L183.06 323.80Z" fill="#e41c23" stroke="#e41c23" stroke-width="0.5" stroke-linejoin="miter"/>
<path d="M203.51 322.85L205.86 323.18L208.21 322.85L207.88 325.20L208.21 327.55L205.86 327.22L203.51 327.55L203.84 325.20Z" fill="#e41c23" stroke="#e41c23" stroke-width="0.5" stroke-linejoin="miter"/>
<path d="M224.29 324.05L226.64 324.38L228.99 324.05L228.66 326.40L228.99 328.75L226.64 328.42L224.29 328.75L224.62 326.40Z" fill="#e41c23" stroke="#e41c23" stroke-width="0.5" stroke-linejoin="miter"/>
<path d="M245.07 324.25L247.42 324.58L249.77 324.25L249.44 326.60L249.77 328.95L247.42 328.62L245.07 328.95L245.40 326.60Z" fill="#e41c23" stroke="#e41c23" stroke-width="0.5" stroke-linejoin="miter"/>
<path d="M102.40 225.80H123.20" stroke="#3c3c3c" stroke-width="1.5"/><rect x="111.00" y="224.10" width="3.4" height="3.4" fill="#fff" stroke="#3c3c3c" stroke-width="1.2"/>
<path d="M103.10 239.20H122.70" stroke="#e41c23" stroke-width="1.5"/><circle cx="112.70" cy="239.20" r="1.95" fill="#fff" stroke="#e41c23" stroke-width="1.3"/>
<path d="M154.70 225.40H177.90" stroke="#3c3c3c" stroke-width="1.5"/><path d="M163.95 223.05L166.30 223.38L168.65 223.05L168.32 225.40L168.65 227.75L166.30 227.42L163.95 227.75L164.28 225.40Z" fill="#3c3c3c" stroke="#3c3c3c" stroke-width="0.5" stroke-linejoin="miter"/>
<path d="M155.60 239.20H177.10" stroke="#e41c23" stroke-width="1.5"/><path d="M164.50 237.40L166.30 237.65L168.10 237.40L167.85 239.20L168.10 241.00L166.30 240.75L164.50 241.00L164.75 239.20Z" fill="#e41c23" stroke="#e41c23" stroke-width="0.5" stroke-linejoin="miter"/>
<text x="126.45" y="228.80" font-size="10.0" fill="#000" stroke="#000" stroke-width="0.15" textLength="7.70" lengthAdjust="spacingAndGlyphs">&#934;</text>
<text x="132.65" y="232.50" font-size="5.9" fill="#000" textLength="4.51" lengthAdjust="spacingAndGlyphs">B</text>
<text x="181.15" y="228.40" font-size="10.0" fill="#000" stroke="#000" stroke-width="0.15" textLength="7.70" lengthAdjust="spacingAndGlyphs">&#934;</text>
<text x="187.35" y="232.10" font-size="5.9" fill="#000" textLength="4.51" lengthAdjust="spacingAndGlyphs">B</text>
<text x="138.41" y="229.00" font-size="11.0" fill="#000" stroke="#000" stroke-width="0.15" textLength="10.96" lengthAdjust="spacingAndGlyphs">TE</text>
<text x="194.13" y="228.60" font-size="11.0" fill="#000" stroke="#000" stroke-width="0.15" textLength="13.98" lengthAdjust="spacingAndGlyphs">TFE</text>
<text x="126.77" y="242.00" font-size="11.0" fill="#000" stroke="#000" stroke-width="0.12" textLength="6.15" lengthAdjust="spacingAndGlyphs">n</text>
<text x="138.82" y="242.00" font-size="11.0" fill="#000" stroke="#000" stroke-width="0.15" textLength="10.01" lengthAdjust="spacingAndGlyphs">TE</text>
<text x="182.45" y="242.00" font-size="11.0" fill="#000" stroke="#000" stroke-width="0.12" textLength="6.28" lengthAdjust="spacingAndGlyphs">n</text>
<text x="196.24" y="242.00" font-size="11.0" fill="#000" stroke="#000" stroke-width="0.15" textLength="13.05" lengthAdjust="spacingAndGlyphs">TFE</text>
<text x="47.23" y="228.90" font-size="11.7" fill="#000" stroke="#000" stroke-width="0.15" textLength="10.74" lengthAdjust="spacingAndGlyphs">(c)</text>
<text x="109.23" y="401.50" font-size="13.2" fill="#000" stroke="#000" stroke-width="0.15" textLength="68.20" lengthAdjust="spacingAndGlyphs">Temperature</text>
<text x="179.17" y="401.80" font-size="14.3" fill="#000" stroke="#000" stroke-width="0.15" textLength="13.45" lengthAdjust="spacingAndGlyphs">(K)</text>
<g transform="translate(287.00,263.40) rotate(90)"><text x="-1.05" y="0.00" font-size="13.0" fill="#e41c23" stroke="#e41c23" stroke-width="0.15" textLength="67.74" lengthAdjust="spacingAndGlyphs">Ideality factor</text></g>
<g transform="translate(10.30,300.10) rotate(-90)"><text x="-0.87" y="0.20" font-size="14.3" fill="#000" stroke="#000" stroke-width="0.15" textLength="12.13" lengthAdjust="spacingAndGlyphs">&#934;</text><text x="7.91" y="5.60" font-size="8.4" fill="#000" stroke="#000" stroke-width="0.1" textLength="6.39" lengthAdjust="spacingAndGlyphs">B</text><text x="16.54" y="0.00" font-size="14.0" fill="#000" stroke="#000" stroke-width="0.15" textLength="20.01" lengthAdjust="spacingAndGlyphs">(eV)</text></g>
<path d="M561.80 215.90H345.60V374.30H561.30" fill="none" stroke="#000" stroke-width="1.4"/>
<path d="M561.80 215.90H564.80V374.30H561.00" fill="none" stroke="#e41c23" stroke-width="1.5"/>
<path d="M345.60 359.90h4 M345.60 331.10h4 M345.60 302.30h4 M345.60 273.50h4 M345.60 244.70h4 M345.60 345.50h2.3 M345.60 316.70h2.3 M345.60 287.90h2.3 M345.60 259.10h2.3 M345.60 230.30h2.3 M365.70 374.30v-4 M407.15 374.30v-4 M448.60 374.30v-4 M490.05 374.30v-4 M531.50 374.30v-4 M386.43 374.30v-2.4 M427.88 374.30v-2.4 M469.32 374.30v-2.4 M510.77 374.30v-2.4 M552.22 374.30v-2.4" stroke="#000" stroke-width="1.2" fill="none"/>
<path d="M564.80 358.46h-4 M564.80 326.78h-4 M564.80 295.10h-4 M564.80 263.42h-4 M564.80 231.74h-4 M564.80 342.62h-2.3 M564.80 310.94h-2.3 M564.80 279.26h-2.3 M564.80 247.58h-2.3" stroke="#e41c23" stroke-width="1.2" fill="none"/>
<text x="327.41" y="362.50" font-size="11.7" fill="#000" stroke="#000" stroke-width="0.15" textLength="13.99" lengthAdjust="spacingAndGlyphs">1.0</text>
<text x="327.52" y="333.70" font-size="11.7" fill="#000" stroke="#000" stroke-width="0.15" textLength="13.99" lengthAdjust="spacingAndGlyphs">1.2</text>
<text x="327.31" y="304.90" font-size="11.7" fill="#000" stroke="#000" stroke-width="0.15" textLength="13.99" lengthAdjust="spacingAndGlyphs">1.4</text>
<text x="327.45" y="276.10" font-size="11.7" fill="#000" stroke="#000" stroke-width="0.15" textLength="13.99" lengthAdjust="spacingAndGlyphs">1.6</text>
<text x="327.45" y="247.30" font-size="11.7" fill="#000" stroke="#000" stroke-width="0.15" textLength="13.99" lengthAdjust="spacingAndGlyphs">1.8</text>
<text x="327.41" y="218.50" font-size="11.7" fill="#000" stroke="#000" stroke-width="0.15" textLength="13.99" lengthAdjust="spacingAndGlyphs">2.0</text>
<text x="570.43" y="361.46" font-size="11.7" fill="#e41c23" stroke="#e41c23" stroke-width="0.15" textLength="13.99" lengthAdjust="spacingAndGlyphs">1.2</text>
<text x="570.43" y="329.78" font-size="11.7" fill="#e41c23" stroke="#e41c23" stroke-width="0.15" textLength="13.99" lengthAdjust="spacingAndGlyphs">1.6</text>
<text x="570.69" y="298.10" font-size="11.7" fill="#e41c23" stroke="#e41c23" stroke-width="0.15" textLength="13.99" lengthAdjust="spacingAndGlyphs">2.0</text>
<text x="570.69" y="266.42" font-size="11.7" fill="#e41c23" stroke="#e41c23" stroke-width="0.15" textLength="13.99" lengthAdjust="spacingAndGlyphs">2.4</text>
<text x="570.69" y="234.74" font-size="11.7" fill="#e41c23" stroke="#e41c23" stroke-width="0.15" textLength="13.99" lengthAdjust="spacingAndGlyphs">2.8</text>
<text x="356.91" y="386.30" font-size="11.7" fill="#000" stroke="#000" stroke-width="0.15" textLength="16.79" lengthAdjust="spacingAndGlyphs">300</text>
<text x="398.36" y="386.30" font-size="11.7" fill="#000" stroke="#000" stroke-width="0.15" textLength="16.79" lengthAdjust="spacingAndGlyphs">350</text>
<text x="439.89" y="386.30" font-size="11.7" fill="#000" stroke="#000" stroke-width="0.15" textLength="16.79" lengthAdjust="spacingAndGlyphs">400</text>
<text x="481.34" y="386.30" font-size="11.7" fill="#000" stroke="#000" stroke-width="0.15" textLength="16.79" lengthAdjust="spacingAndGlyphs">450</text>
<text x="522.70" y="386.30" font-size="11.7" fill="#000" stroke="#000" stroke-width="0.15" textLength="16.79" lengthAdjust="spacingAndGlyphs">500</text>
<polyline points="364.50,344.00 385.20,340.00 405.90,338.40 426.60,336.90 447.30,332.40 468.00,326.40 488.70,322.10 509.40,315.00 530.10,304.70 550.80,293.60" fill="none" stroke="#3c3c3c" stroke-width="1.5" stroke-linejoin="round"/>
<polyline points="364.50,271.80 385.20,270.80 405.90,266.20 426.60,263.40 447.30,260.30 468.00,257.50 488.70,253.30 509.40,250.40 530.10,247.20 550.80,246.00" fill="none" stroke="#3c3c3c" stroke-width="1.5" stroke-linejoin="round"/>
<rect x="362.80" y="342.30" width="3.4" height="3.4" fill="#fff" stroke="#3c3c3c" stroke-width="1.2"/>
<rect x="383.50" y="338.30" width="3.4" height="3.4" fill="#fff" stroke="#3c3c3c" stroke-width="1.2"/>
<rect x="404.20" y="336.70" width="3.4" height="3.4" fill="#fff" stroke="#3c3c3c" stroke-width="1.2"/>
<rect x="424.90" y="335.20" width="3.4" height="3.4" fill="#fff" stroke="#3c3c3c" stroke-width="1.2"/>
<rect x="445.60" y="330.70" width="3.4" height="3.4" fill="#fff" stroke="#3c3c3c" stroke-width="1.2"/>
<rect x="466.30" y="324.70" width="3.4" height="3.4" fill="#fff" stroke="#3c3c3c" stroke-width="1.2"/>
<rect x="487.00" y="320.40" width="3.4" height="3.4" fill="#fff" stroke="#3c3c3c" stroke-width="1.2"/>
<rect x="507.70" y="313.30" width="3.4" height="3.4" fill="#fff" stroke="#3c3c3c" stroke-width="1.2"/>
<rect x="528.40" y="303.00" width="3.4" height="3.4" fill="#fff" stroke="#3c3c3c" stroke-width="1.2"/>
<rect x="549.10" y="291.90" width="3.4" height="3.4" fill="#fff" stroke="#3c3c3c" stroke-width="1.2"/>
<path d="M361.85 269.15L364.50 269.52L367.15 269.15L366.78 271.80L367.15 274.45L364.50 274.08L361.85 274.45L362.22 271.80Z" fill="#3c3c3c" stroke="#3c3c3c" stroke-width="0.5" stroke-linejoin="miter"/>
<path d="M382.55 268.15L385.20 268.52L387.85 268.15L387.48 270.80L387.85 273.45L385.20 273.08L382.55 273.45L382.92 270.80Z" fill="#3c3c3c" stroke="#3c3c3c" stroke-width="0.5" stroke-linejoin="miter"/>
<path d="M403.25 263.55L405.90 263.92L408.55 263.55L408.18 266.20L408.55 268.85L405.90 268.48L403.25 268.85L403.62 266.20Z" fill="#3c3c3c" stroke="#3c3c3c" stroke-width="0.5" stroke-linejoin="miter"/>
<path d="M423.95 260.75L426.60 261.12L429.25 260.75L428.88 263.40L429.25 266.05L426.60 265.68L423.95 266.05L424.32 263.40Z" fill="#3c3c3c" stroke="#3c3c3c" stroke-width="0.5" stroke-linejoin="miter"/>
<path d="M444.65 257.65L447.30 258.02L449.95 257.65L449.58 260.30L449.95 262.95L447.30 262.58L444.65 262.95L445.02 260.30Z" fill="#3c3c3c" stroke="#3c3c3c" stroke-width="0.5" stroke-linejoin="miter"/>
<path d="M465.35 254.85L468.00 255.22L470.65 254.85L470.28 257.50L470.65 260.15L468.00 259.78L465.35 260.15L465.72 257.50Z" fill="#3c3c3c" stroke="#3c3c3c" stroke-width="0.5" stroke-linejoin="miter"/>
<path d="M486.05 250.65L488.70 251.02L491.35 250.65L490.98 253.30L491.35 255.95L488.70 255.58L486.05 255.95L486.42 253.30Z" fill="#3c3c3c" stroke="#3c3c3c" stroke-width="0.5" stroke-linejoin="miter"/>
<path d="M506.75 247.75L509.40 248.12L512.05 247.75L511.68 250.40L512.05 253.05L509.40 252.68L506.75 253.05L507.12 250.40Z" fill="#3c3c3c" stroke="#3c3c3c" stroke-width="0.5" stroke-linejoin="miter"/>
<path d="M527.45 244.55L530.10 244.92L532.75 244.55L532.38 247.20L532.75 249.85L530.10 249.48L527.45 249.85L527.82 247.20Z" fill="#3c3c3c" stroke="#3c3c3c" stroke-width="0.5" stroke-linejoin="miter"/>
<path d="M548.15 243.35L550.80 243.72L553.45 243.35L553.08 246.00L553.45 248.65L550.80 248.28L548.15 248.65L548.52 246.00Z" fill="#3c3c3c" stroke="#3c3c3c" stroke-width="0.5" stroke-linejoin="miter"/>
<polyline points="364.50,270.20 385.20,276.00 405.90,278.80 426.60,285.40 447.30,293.30 468.00,302.70 488.70,309.90 509.40,319.30 530.10,325.00 550.80,328.90" fill="none" stroke="#e41c23" stroke-width="1.5" stroke-linejoin="round"/>
<polyline points="364.50,244.50 385.20,252.50 405.90,261.30 426.60,264.00 447.30,273.80 468.00,299.90 488.70,314.10 509.40,329.20 530.10,333.50 550.80,343.50" fill="none" stroke="#e41c23" stroke-width="1.5" stroke-linejoin="round"/>
<circle cx="364.50" cy="270.20" r="1.95" fill="#fff" stroke="#e41c23" stroke-width="1.3"/>
<circle cx="385.20" cy="276.00" r="1.95" fill="#fff" stroke="#e41c23" stroke-width="1.3"/>
<circle cx="405.90" cy="278.80" r="1.95" fill="#fff" stroke="#e41c23" stroke-width="1.3"/>
<circle cx="426.60" cy="285.40" r="1.95" fill="#fff" stroke="#e41c23" stroke-width="1.3"/>
<circle cx="447.30" cy="293.30" r="1.95" fill="#fff" stroke="#e41c23" stroke-width="1.3"/>
<circle cx="468.00" cy="302.70" r="1.95" fill="#fff" stroke="#e41c23" stroke-width="1.3"/>
<circle cx="488.70" cy="309.90" r="1.95" fill="#fff" stroke="#e41c23" stroke-width="1.3"/>
<circle cx="509.40" cy="319.30" r="1.95" fill="#fff" stroke="#e41c23" stroke-width="1.3"/>
<circle cx="530.10" cy="325.00" r="1.95" fill="#fff" stroke="#e41c23" stroke-width="1.3"/>
<circle cx="550.80" cy="328.90" r="1.95" fill="#fff" stroke="#e41c23" stroke-width="1.3"/>
<path d="M362.15 242.15L364.50 242.48L366.85 242.15L366.52 244.50L366.85 246.85L364.50 246.52L362.15 246.85L362.48 244.50Z" fill="#e41c23" stroke="#e41c23" stroke-width="0.5" stroke-linejoin="miter"/>
<path d="M382.85 250.15L385.20 250.48L387.55 250.15L387.22 252.50L387.55 254.85L385.20 254.52L382.85 254.85L383.18 252.50Z" fill="#e41c23" stroke="#e41c23" stroke-width="0.5" stroke-linejoin="miter"/>
<path d="M403.55 258.95L405.90 259.28L408.25 258.95L407.92 261.30L408.25 263.65L405.90 263.32L403.55 263.65L403.88 261.30Z" fill="#e41c23" stroke="#e41c23" stroke-width="0.5" stroke-linejoin="miter"/>
<path d="M424.25 261.65L426.60 261.98L428.95 261.65L428.62 264.00L428.95 266.35L426.60 266.02L424.25 266.35L424.58 264.00Z" fill="#e41c23" stroke="#e41c23" stroke-width="0.5" stroke-linejoin="miter"/>
<path d="M444.95 271.45L447.30 271.78L449.65 271.45L449.32 273.80L449.65 276.15L447.30 275.82L444.95 276.15L445.28 273.80Z" fill="#e41c23" stroke="#e41c23" stroke-width="0.5" stroke-linejoin="miter"/>
<path d="M465.65 297.55L468.00 297.88L470.35 297.55L470.02 299.90L470.35 302.25L468.00 301.92L465.65 302.25L465.98 299.90Z" fill="#e41c23" stroke="#e41c23" stroke-width="0.5" stroke-linejoin="miter"/>
<path d="M486.35 311.75L488.70 312.08L491.05 311.75L490.72 314.10L491.05 316.45L488.70 316.12L486.35 316.45L486.68 314.10Z" fill="#e41c23" stroke="#e41c23" stroke-width="0.5" stroke-linejoin="miter"/>
<path d="M507.05 326.85L509.40 327.18L511.75 326.85L511.42 329.20L511.75 331.55L509.40 331.22L507.05 331.55L507.38 329.20Z" fill="#e41c23" stroke="#e41c23" stroke-width="0.5" stroke-linejoin="miter"/>
<path d="M527.75 331.15L530.10 331.48L532.45 331.15L532.12 333.50L532.45 335.85L530.10 335.52L527.75 335.85L528.08 333.50Z" fill="#e41c23" stroke="#e41c23" stroke-width="0.5" stroke-linejoin="miter"/>
<path d="M548.45 341.15L550.80 341.48L553.15 341.15L552.82 343.50L553.15 345.85L550.80 345.52L548.45 345.85L548.78 343.50Z" fill="#e41c23" stroke="#e41c23" stroke-width="0.5" stroke-linejoin="miter"/>
<path d="M410.70 224.50H431.30" stroke="#3c3c3c" stroke-width="1.5"/><rect x="419.50" y="222.80" width="3.4" height="3.4" fill="#fff" stroke="#3c3c3c" stroke-width="1.2"/>
<path d="M411.40 238.00H430.80" stroke="#e41c23" stroke-width="1.5"/><circle cx="421.20" cy="238.00" r="1.95" fill="#fff" stroke="#e41c23" stroke-width="1.3"/>
<path d="M461.00 224.50H483.20" stroke="#3c3c3c" stroke-width="1.5"/><path d="M469.25 222.15L471.60 222.48L473.95 222.15L473.62 224.50L473.95 226.85L471.60 226.52L469.25 226.85L469.58 224.50Z" fill="#3c3c3c" stroke="#3c3c3c" stroke-width="0.5" stroke-linejoin="miter"/>
<path d="M461.90 238.00H482.40" stroke="#e41c23" stroke-width="1.5"/><path d="M469.80 236.20L471.60 236.45L473.40 236.20L473.15 238.00L473.40 239.80L471.60 239.55L469.80 239.80L470.05 238.00Z" fill="#e41c23" stroke="#e41c23" stroke-width="0.5" stroke-linejoin="miter"/>
<text x="435.15" y="227.50" font-size="10.0" fill="#000" stroke="#000" stroke-width="0.15" textLength="7.70" lengthAdjust="spacingAndGlyphs">&#934;</text>
<text x="441.35" y="231.20" font-size="5.9" fill="#000" textLength="4.51" lengthAdjust="spacingAndGlyphs">B</text>
<text x="485.45" y="227.50" font-size="10.0" fill="#000" stroke="#000" stroke-width="0.15" textLength="7.70" lengthAdjust="spacingAndGlyphs">&#934;</text>
<text x="491.65" y="231.20" font-size="5.9" fill="#000" textLength="4.51" lengthAdjust="spacingAndGlyphs">B</text>
<text x="447.82" y="227.70" font-size="11.0" fill="#000" stroke="#000" stroke-width="0.15" textLength="10.01" lengthAdjust="spacingAndGlyphs">TE</text>
<text x="498.14" y="227.70" font-size="11.0" fill="#000" stroke="#000" stroke-width="0.15" textLength="13.78" lengthAdjust="spacingAndGlyphs">TFE</text>
<text x="435.28" y="240.80" font-size="11.0" fill="#000" stroke="#000" stroke-width="0.12" textLength="6.02" lengthAdjust="spacingAndGlyphs">n</text>
<text x="446.83" y="240.80" font-size="11.0" fill="#000" stroke="#000" stroke-width="0.15" textLength="9.80" lengthAdjust="spacingAndGlyphs">TE</text>
<text x="486.28" y="240.80" font-size="11.0" fill="#000" stroke="#000" stroke-width="0.12" textLength="6.02" lengthAdjust="spacingAndGlyphs">n</text>
<text x="500.84" y="240.80" font-size="11.0" fill="#000" stroke="#000" stroke-width="0.15" textLength="13.16" lengthAdjust="spacingAndGlyphs">TFE</text>
<text x="353.50" y="230.30" font-size="11.7" fill="#000" stroke="#000" stroke-width="0.15" textLength="11.80" lengthAdjust="spacingAndGlyphs">(d)</text>
<text x="413.54" y="401.40" font-size="13.2" fill="#000" stroke="#000" stroke-width="0.15" textLength="67.39" lengthAdjust="spacingAndGlyphs">Temperature</text>
<text x="483.19" y="401.70" font-size="14.3" fill="#000" stroke="#000" stroke-width="0.15" textLength="13.01" lengthAdjust="spacingAndGlyphs">(K)</text>
<g transform="translate(590.40,264.40) rotate(90)"><text x="-1.05" y="0.00" font-size="13.0" fill="#e41c23" stroke="#e41c23" stroke-width="0.15" textLength="67.43" lengthAdjust="spacingAndGlyphs">Ideality factor</text></g>
<g transform="translate(319.00,304.10) rotate(-90)"><text x="-0.87" y="0.20" font-size="14.3" fill="#000" stroke="#000" stroke-width="0.15" textLength="12.13" lengthAdjust="spacingAndGlyphs">&#934;</text><text x="7.91" y="5.60" font-size="8.4" fill="#000" stroke="#000" stroke-width="0.1" textLength="6.39" lengthAdjust="spacingAndGlyphs">B</text><text x="16.54" y="0.00" font-size="14.0" fill="#000" stroke="#000" stroke-width="0.15" textLength="20.01" lengthAdjust="spacingAndGlyphs">(eV)</text></g>
</svg>
</body></html>
